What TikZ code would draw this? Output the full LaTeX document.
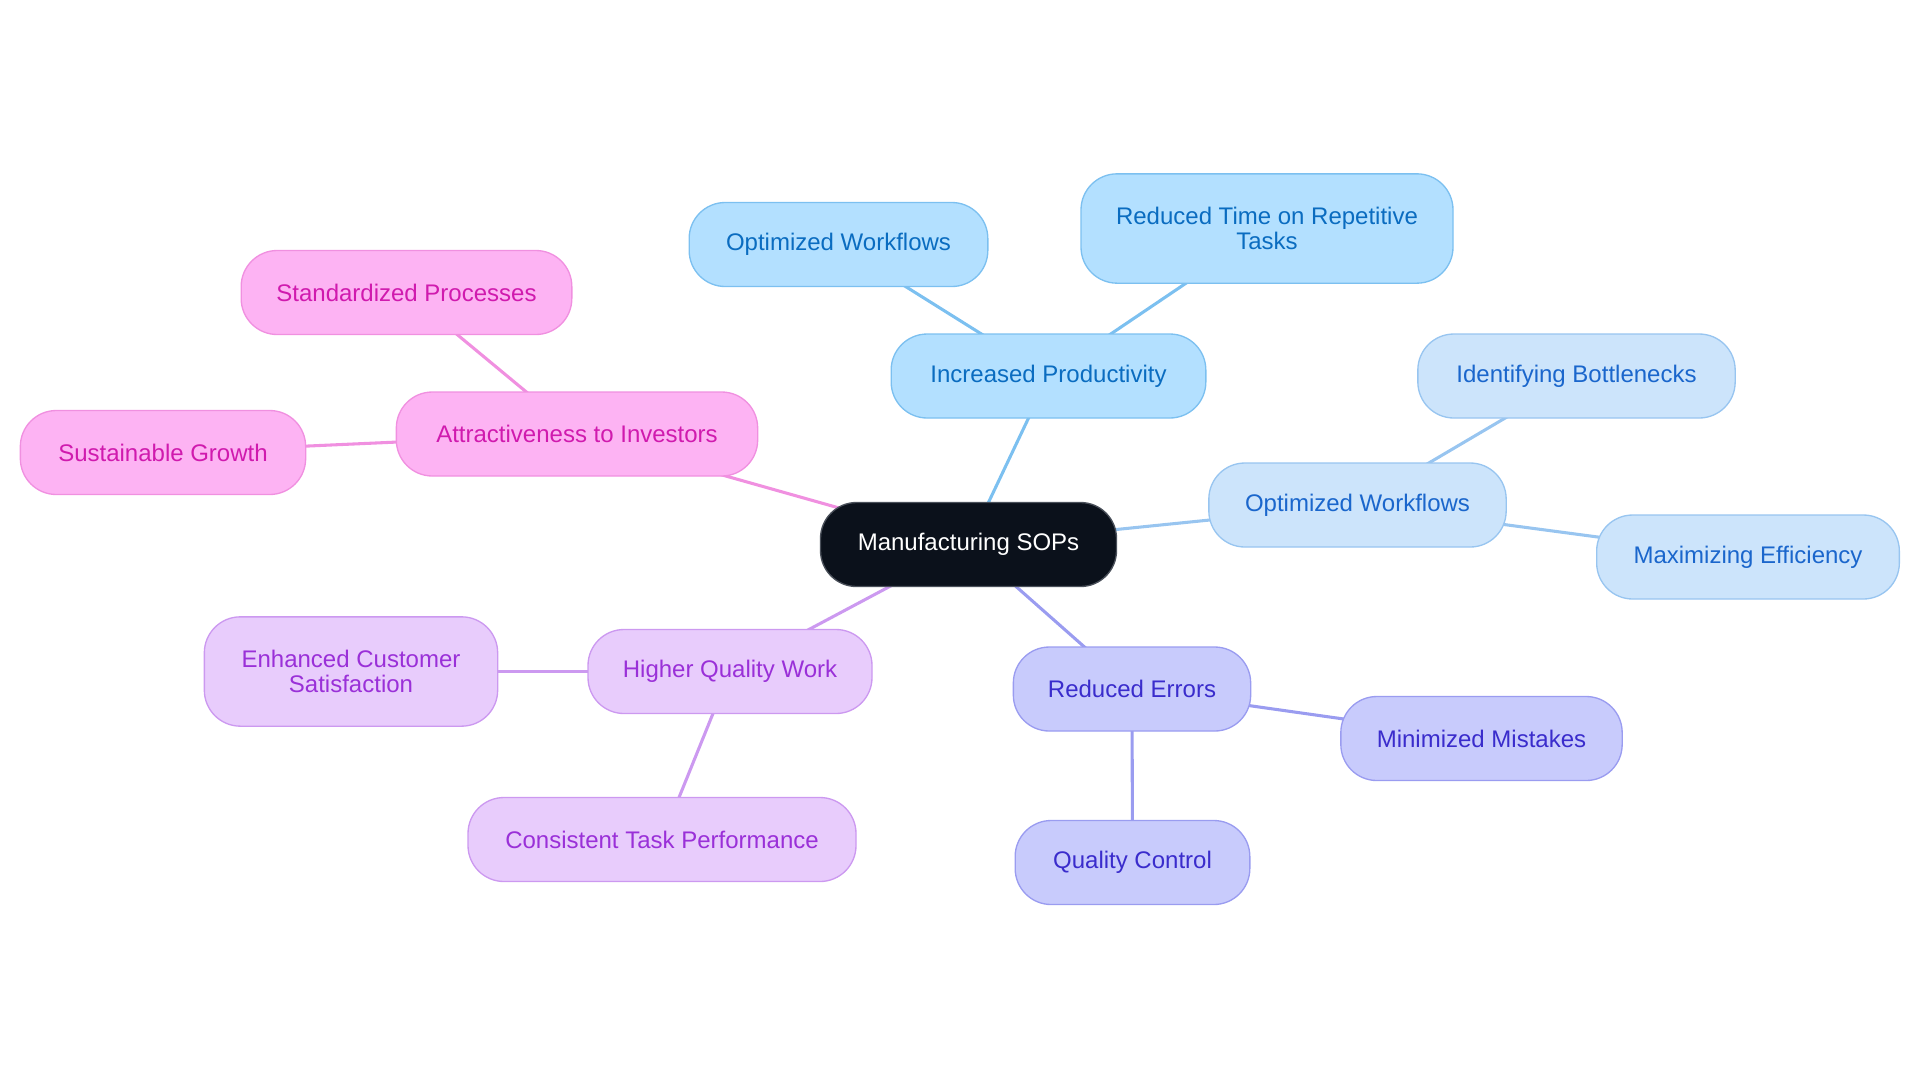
\documentclass[tikz,border=0pt]{standalone}
\usepackage{fontspec}
\setmainfont{Liberation Sans}
\usetikzlibrary{backgrounds}
\definecolor{cdark}{HTML}{0B111B}
\definecolor{cdarkb}{HTML}{4A505A}
\definecolor{bfill}{HTML}{B3E0FF}
\definecolor{bline}{HTML}{7CC0F0}
\definecolor{btext}{HTML}{0A6CC0}
\definecolor{lfill}{HTML}{CCE4FB}
\definecolor{lline}{HTML}{98C5F0}
\definecolor{ltext}{HTML}{1A66CC}
\definecolor{pfill}{HTML}{C8CBFC}
\definecolor{pline}{HTML}{9A9CF0}
\definecolor{ptext}{HTML}{3A2CCC}
\definecolor{vfill}{HTML}{E8CCFC}
\definecolor{vline}{HTML}{CC99F0}
\definecolor{vtext}{HTML}{9A30D8}
\definecolor{mfill}{HTML}{FDB3F3}
\definecolor{mline}{HTML}{F090E0}
\definecolor{mtext}{HTML}{D01AAE}
\begin{document}
\begin{tikzpicture}[x=0.75pt,y=-0.75pt,
  box/.style={rectangle,rounded corners=27pt,line width=1pt,inner sep=0pt,
    align=center,font=\fontsize{18}{18.5}\selectfont,minimum height=63pt},
  rootbox/.style={box,fill=cdark,draw=cdarkb,text=white},
  bluebox/.style={box,fill=bfill,draw=bline,text=btext},
  lightbox/.style={box,fill=lfill,draw=lline,text=ltext},
  purpbox/.style={box,fill=pfill,draw=pline,text=ptext},
  violbox/.style={box,fill=vfill,draw=vline,text=vtext},
  pinkbox/.style={box,fill=mfill,draw=mline,text=mtext},
  link/.style={line width=2.3pt}]
\useasboundingbox (0,0) rectangle (1920,1083);
\node[rootbox,minimum width=222pt] (root) at (968.5,544.5) {Manufacturing SOPs};

\node[bluebox,minimum width=236pt] (ip) at (1048.5,376) {Increased Productivity};
\node[bluebox,minimum width=224pt] (ow1) at (838.5,244.5) {Optimized Workflows};
\node[bluebox,minimum width=279pt,minimum height=82pt] (rt) at (1267,228.5) {Reduced Time on Repetitive\\Tasks};

\node[lightbox,minimum width=223pt] (ow2) at (1357.5,505) {Optimized Workflows};
\node[lightbox,minimum width=238pt] (ib) at (1576.5,376) {Identifying Bottlenecks};
\node[lightbox,minimum width=227pt] (me) at (1748,557) {Maximizing Efficiency};

\node[purpbox,minimum width=178pt] (re) at (1132,689) {Reduced Errors};
\node[purpbox,minimum width=211pt] (mm) at (1481.5,738.5) {Minimized Mistakes};
\node[purpbox,minimum width=176pt] (qc) at (1132.5,862.5) {Quality Control};

\node[violbox,minimum width=213pt] (hq) at (730,671.5) {Higher Quality Work};
\node[violbox,minimum width=220pt,minimum height=82pt] (ec) at (351,671.5) {Enhanced Customer\\Satisfaction};
\node[violbox,minimum width=291pt] (ct) at (662,839.5) {Consistent Task Performance};

\node[pinkbox,minimum width=271pt] (ai) at (577,434) {Attractiveness to Investors};
\node[pinkbox,minimum width=248pt] (sp) at (406.5,292.5) {Standardized Processes};
\node[pinkbox,minimum width=214pt] (sg) at (163,452.5) {Sustainable Growth};

\begin{scope}[on background layer]
\draw[link,draw=bline] (root.center) -- (ip.center);
\draw[link,draw=bline] (ip.center) -- (ow1.center);
\draw[link,draw=bline] (ip.center) -- (rt.center);
\draw[link,draw=lline] (root.center) -- (ow2.center);
\draw[link,draw=lline] (ow2.center) -- (ib.center);
\draw[link,draw=lline] (ow2.center) -- (me.center);
\draw[link,draw=pline] (root.center) -- (re.center);
\draw[link,draw=pline] (re.center) -- (mm.center);
\draw[link,draw=pline] (re.center) -- (qc.center);
\draw[link,draw=vline] (root.center) -- (hq.center);
\draw[link,draw=vline] (hq.center) -- (ec.center);
\draw[link,draw=vline] (hq.center) -- (ct.center);
\draw[link,draw=mline] (root.center) -- (ai.center);
\draw[link,draw=mline] (ai.center) -- (sp.center);
\draw[link,draw=mline] (ai.center) -- (sg.center);
\end{scope}
\end{tikzpicture}
\end{document}
